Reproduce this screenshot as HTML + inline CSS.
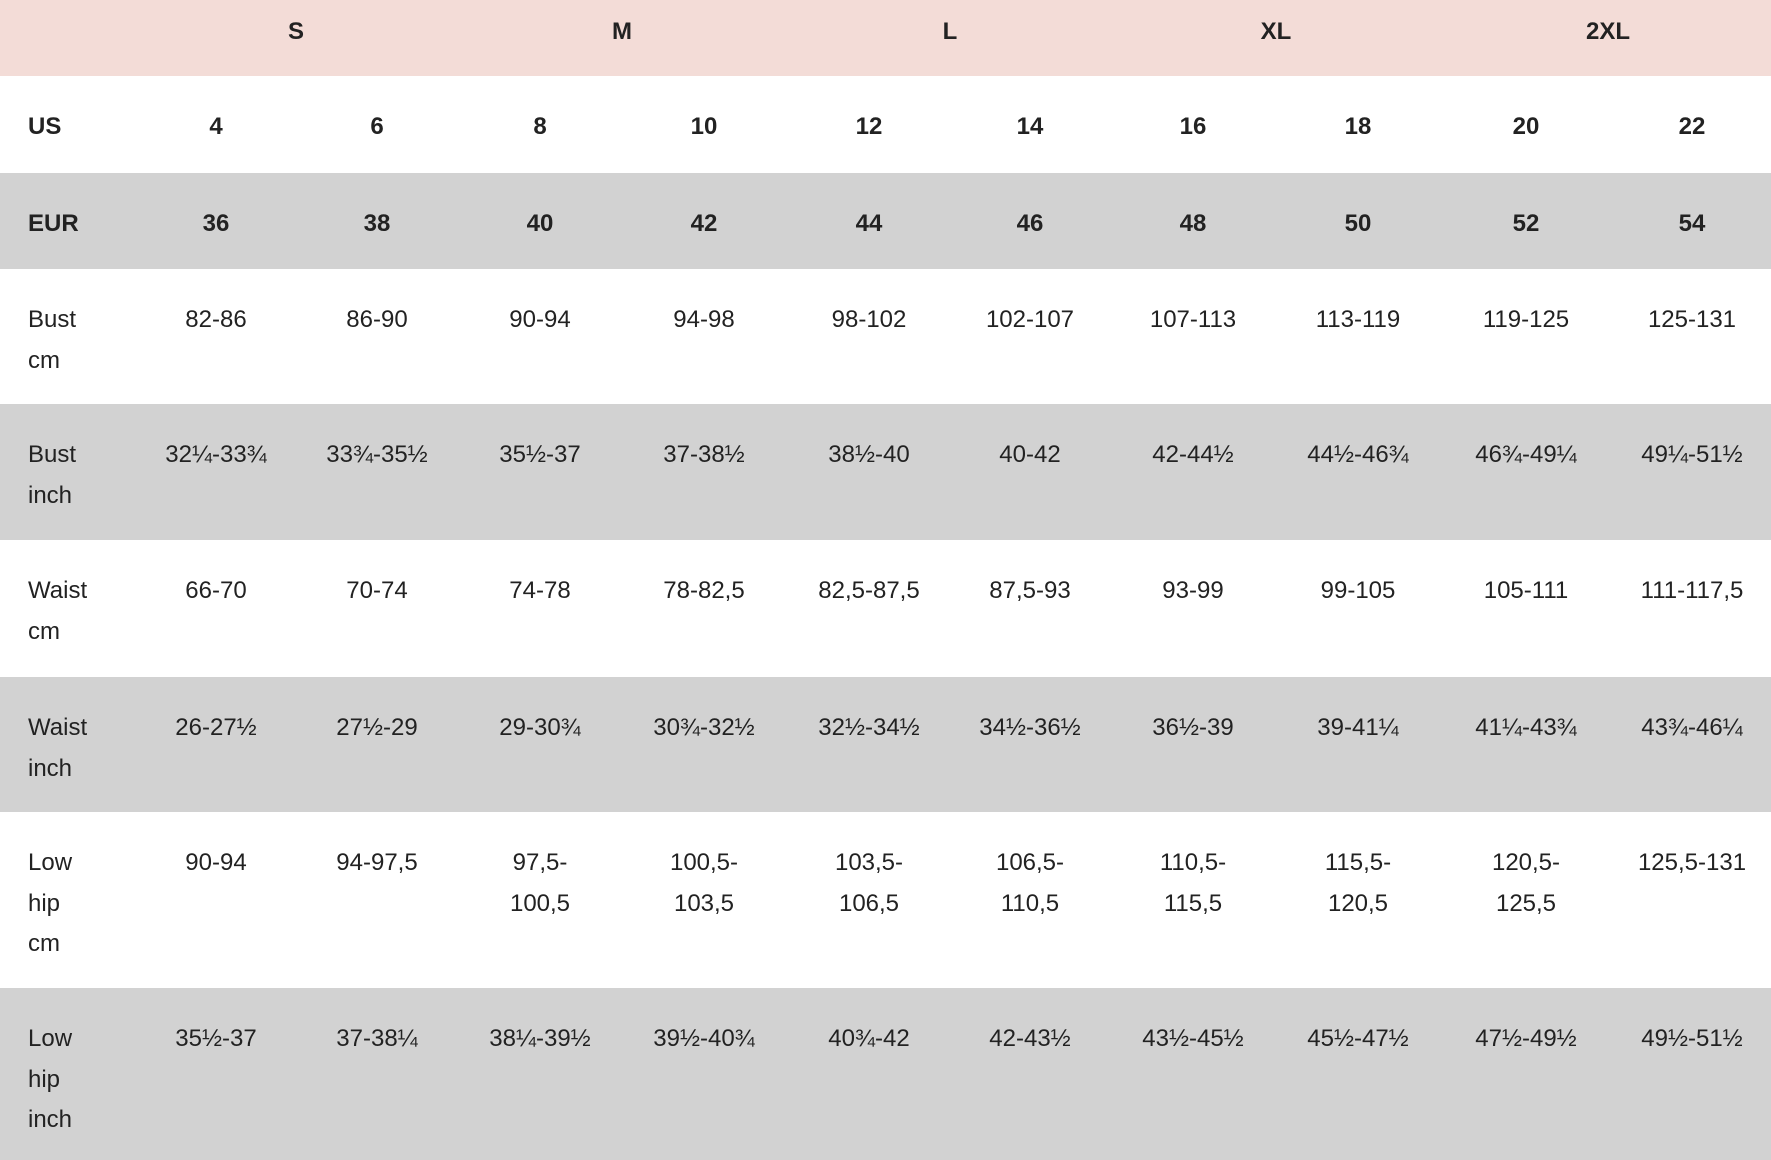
<!DOCTYPE html>
<html><head><meta charset="utf-8">
<style>
html,body{margin:0;padding:0;}
body{width:1771px;height:1160px;position:relative;overflow:hidden;background:#fff;font-family:"Liberation Sans",sans-serif;color:#222;}
.row{position:absolute;left:0;width:1771px;}
.cell{position:absolute;font-size:24px;line-height:40.6px;text-align:center;width:180px;margin-left:-90px;white-space:nowrap;}
.lab{position:absolute;left:28px;font-size:24px;line-height:40.6px;}
.b{font-weight:bold;}
</style></head>
<body>
<script>
const sizeGroups=["S","M","L","XL","2XL"];
const rowLabels=[["US"],["EUR"],["Bust","cm"],["Bust","inch"],["Waist","cm"],["Waist","inch"],["Low","hip","cm"],["Low","hip","inch"]];
const rowValues=[
["4","6","8","10","12","14","16","18","20","22"],
["36","38","40","42","44","46","48","50","52","54"],
["82-86","86-90","90-94","94-98","98-102","102-107","107-113","113-119","119-125","125-131"],
["32¼-33¾","33¾-35½","35½-37","37-38½","38½-40","40-42","42-44½","44½-46¾","46¾-49¼","49¼-51½"],
["66-70","70-74","74-78","78-82,5","82,5-87,5","87,5-93","93-99","99-105","105-111","111-117,5"],
["26-27½","27½-29","29-30¾","30¾-32½","32½-34½","34½-36½","36½-39","39-41¼","41¼-43¾","43¾-46¼"],
["90-94","94-97,5","97,5-\n100,5","100,5-\n103,5","103,5-\n106,5","106,5-\n110,5","110,5-\n115,5","115,5-\n120,5","120,5-\n125,5","125,5-131"],
["35½-37","37-38¼","38¼-39½","39½-40¾","40¾-42","42-43½","43½-45½","45½-47½","47½-49½","49½-51½"]
];
const rowTops=[76,173,269,404,540,677,812,988,1160];
const colX=[216,377,540,704,869,1030,1193,1358,1526,1692];
const groupX=[296,622,950,1276,1608];
const body=document.body;
const hdr=document.createElement('div');
hdr.className='row';
hdr.style.top='0px';hdr.style.height='76px';hdr.style.background='#f3dcd7';


body.appendChild(hdr);
sizeGroups.forEach((g,i)=>{
  const c=document.createElement('div');
  c.className='cell b';
  c.style.left=groupX[i]+'px';c.style.top='12px';
  c.textContent=g;
  
  
  hdr.appendChild(c);
});
rowValues.forEach((vals,r)=>{
  const row=document.createElement('div');
  row.className='row';
  const top=rowTops[r],h=rowTops[r+1]-top;
  row.style.top=top+'px';row.style.height=h+'px';
  row.style.background=(r%2===1)?'#d2d2d2':'#fff';
  
  
  body.appendChild(row);
  const bold=r<2;
  const lab=document.createElement('div');
  lab.className='lab'+(bold?' b':'');
  lab.style.top='31px';
  lab.innerHTML=rowLabels[r].join('<br>');
  
  
  row.appendChild(lab);
  vals.forEach((v,i)=>{
    const c=document.createElement('div');
    c.className='cell'+(bold?' b':'');
    c.style.left=colX[i]+'px';c.style.top='31px';
    c.innerHTML=v.split('\n').join('<br>');
    
    
    row.appendChild(c);
  });
});
</script>
</body></html>
